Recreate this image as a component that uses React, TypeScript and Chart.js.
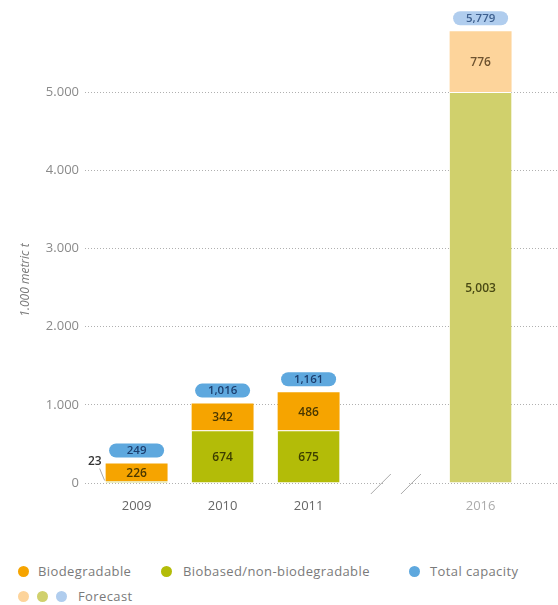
import React, { useEffect, useRef } from "react";
import { Chart, registerables } from "chart.js";

Chart.register(...registerables);

// ---- data ----
const years = ["2009", "2010", "2011", "2016"];
const slots = [0, 1, 2, 4];
const forecast = [false, false, false, true];
const biobased = [23, 674, 675, 5003];
const biodegradable = [226, 342, 486, 776];
const totals = [249, 1016, 1161, 5779];
const yTicks = [0, 1000, 2000, 3000, 4000, 5000];
const yTickLabels = ["0", "1.000", "2.000", "3.000", "4.000", "5.000"];

// ---- styles ----
const FONT = '"Open Sans", "Noto Sans", sans-serif';
const ORANGE = "#f6a400";
const ORANGE_LIGHT = "#fdd49b";
const GREEN = "#b3bc08";
const GREEN_LIGHT = "#d0d06c";
const BLUE = "#5ea8de";
const BLUE_LIGHT = "#b0cdee";

const seriesValues = [biobased, biodegradable];

const labelPlugin = {
  id: "valueLabels",
  afterDatasetsDraw(chart: any) {
    const ctx = chart.ctx;
    ctx.save();
    ctx.textAlign = "center";
    ctx.textBaseline = "middle";
    chart.data.datasets.forEach((_ds: any, di: number) => {
      const meta = chart.getDatasetMeta(di);
      meta.data.forEach((el: any, i: number) => {
        const { x, y, base, width } = el.getProps(["x", "y", "base", "width"], true);
        const h = base - y;
        const txt = seriesValues[di][i].toLocaleString("en-US");
        ctx.font = `600 12px ${FONT}`;
        if (h >= 14) {
          ctx.fillStyle = di === 0 ? (forecast[i] ? "#4a4a14" : "#3c3e00") : forecast[i] ? "#6e5330" : "#4a3800";
          ctx.fillText(txt, x, (y + base) / 2 + 1);
        } else {
          const left = x - width / 2;
          ctx.fillStyle = "#333";
          ctx.textAlign = "right";
          ctx.fillText(txt, left - 4, base - 21);
          ctx.textAlign = "center";
          ctx.strokeStyle = "#aaa";
          ctx.lineWidth = 1;
          ctx.beginPath();
          ctx.moveTo(left - 6, base - 14);
          ctx.lineTo(left - 1, base - 2);
          ctx.stroke();
        }
      });
    });
    // total pills
    const topMeta = chart.getDatasetMeta(chart.data.datasets.length - 1);
    topMeta.data.forEach((el: any, i: number) => {
      const { x, y } = el.getProps(["x", "y"], true);
      const cy = y - 13;
      const w = 55;
      const h = 14;
      ctx.fillStyle = forecast[i] ? BLUE_LIGHT : BLUE;
      ctx.beginPath();
      (ctx as any).roundRect(x - w / 2, cy - h / 2, w, h, h / 2);
      ctx.fill();
      ctx.fillStyle = forecast[i] ? "#3d5f8e" : "#1d3f6f";
      ctx.font = `600 11.5px ${FONT}`;
      ctx.fillText(totals[i].toLocaleString("en-US"), x, cy + 0.5);
    });
    // axis break marks
    const xs = chart.scales.x;
    const ys = chart.scales.y;
    const y0 = ys.getPixelForValue(0);
    const b1 = xs.getPixelForValue(2.84);
    const b2 = xs.getPixelForValue(3.19);
    ctx.fillStyle = "#fff";
    ctx.fillRect(b1 + 3, y0 - 2, b2 - b1 - 6, 4);
    ctx.strokeStyle = "#aaa";
    ctx.lineWidth = 1;
    [b1, b2].forEach((bx) => {
      ctx.beginPath();
      ctx.moveTo(bx - 10, y0 + 11);
      ctx.lineTo(bx + 10, y0 - 9);
      ctx.stroke();
    });
    ctx.restore();
  },
};

function Dot({ cx, cy, color }: { cx: number; cy: number; color: string }) {
  return (
    <div
      style={{
        position: "absolute",
        left: cx - 5.5,
        top: cy - 5.5,
        width: 11,
        height: 11,
        borderRadius: 5.5,
        background: color,
      }}
    />
  );
}

function LegendText({ x, cy, text }: { x: number; cy: number; text: string }) {
  return (
    <div
      style={{
        position: "absolute",
        left: x,
        top: cy - 9,
        height: 18,
        lineHeight: "18px",
        fontSize: 13,
        letterSpacing: "0.4px",
        color: "#7a7a7a",
        whiteSpace: "nowrap",
      }}
    >
      {text}
    </div>
  );
}

export default function App() {
  const ref = useRef<HTMLCanvasElement>(null);

  useEffect(() => {
    if (!ref.current) return;
    const chart = new Chart(ref.current, {
      type: "bar",
      data: {
        datasets: [
          {
            label: "Biobased/non-biodegradable",
            data: slots.map((s, i) => ({ x: s, y: biobased[i] })),
            backgroundColor: forecast.map((f) => (f ? GREEN_LIGHT : GREEN)),
            borderColor: "#ffffff",
            borderWidth: { top: 1, right: 0, bottom: 0, left: 0 },
            borderSkipped: false,
            barPercentage: 0.9,
            categoryPercentage: 0.8,
          },
          {
            label: "Biodegradable",
            data: slots.map((s, i) => ({ x: s, y: biodegradable[i] })),
            backgroundColor: forecast.map((f) => (f ? ORANGE_LIGHT : ORANGE)),
            borderWidth: 0,
            barPercentage: 0.9,
            categoryPercentage: 0.8,
          },
        ],
      },
      options: {
        animation: false,
        responsive: true,
        maintainAspectRatio: false,
        layout: { padding: { top: 14, left: 0, right: 0, bottom: 0 } },
        plugins: { legend: { display: false }, tooltip: { enabled: false } },
        scales: {
          x: {
            type: "linear",
            stacked: true,
            offset: false,
            min: -0.6,
            max: 4.9,
            afterBuildTicks: (axis: any) => {
              axis.ticks = slots.map((v) => ({ value: v }));
            },
            afterFit: (axis: any) => {
              axis.height = 47;
            },
            grid: { display: false, drawTicks: false, offset: false },
            border: { display: false },
            ticks: {
              padding: 15,
              autoSkip: false,
              maxRotation: 0,
              font: { family: FONT, size: 13 },
              color: (c: any) => {
                const idx = slots.indexOf(c.tick?.value);
                return forecast[idx] ? "#ababab" : "#666";
              },
              callback: (v: any) => {
                const idx = slots.indexOf(Number(v));
                return idx >= 0 ? years[idx] : "";
              },
            },
          },
          y: {
            stacked: true,
            min: 0,
            max: 6000,
            afterBuildTicks: (axis: any) => {
              axis.ticks = yTicks.map((v) => ({ value: v }));
            },
            afterFit: (axis: any) => {
              axis.width = 85;
            },
            grid: { color: "#b0b0b0", lineWidth: 1, drawTicks: false },
            border: { display: false, dash: [1, 2] },
            ticks: {
              padding: 6,
              font: { family: FONT, size: 13 },
              color: "#8a8a8a",
              callback: (v: any) => {
                const idx = yTicks.indexOf(Number(v));
                return idx >= 0 ? yTickLabels[idx] : "";
              },
            },
          },
        },
      },
      plugins: [labelPlugin],
    } as any);
    return () => chart.destroy();
  }, []);

  return (
    <div
      style={{
        position: "absolute",
        left: 0,
        top: 0,
        width: 558,
        height: 605,
        fontFamily: FONT,
        background: "#fff",
      }}
    >
      <div style={{ position: "absolute", left: 0, top: 0, width: 558, height: 530 }}>
        <canvas ref={ref} />
      </div>
      <div
        style={{
          position: "absolute",
          left: 25 - 60,
          top: 280 - 9,
          width: 120,
          height: 18,
          lineHeight: "18px",
          textAlign: "center",
          transform: "rotate(-90deg)",
          fontStyle: "italic",
          fontSize: 12,
          color: "#7a7a7a",
          whiteSpace: "nowrap",
        }}
      >
        1.000 metric t
      </div>
      <Dot cx={23} cy={571} color={ORANGE} />
      <LegendText x={38} cy={571} text="Biodegradable" />
      <Dot cx={166} cy={571} color={GREEN} />
      <LegendText x={183} cy={571} text="Biobased/non-biodegradable" />
      <Dot cx={414} cy={571} color={BLUE} />
      <LegendText x={430} cy={571} text="Total capacity" />
      <Dot cx={23} cy={596} color={ORANGE_LIGHT} />
      <Dot cx={42} cy={596} color={GREEN_LIGHT} />
      <Dot cx={61} cy={596} color={BLUE_LIGHT} />
      <LegendText x={78} cy={596} text="Forecast" />
    </div>
  );
}
